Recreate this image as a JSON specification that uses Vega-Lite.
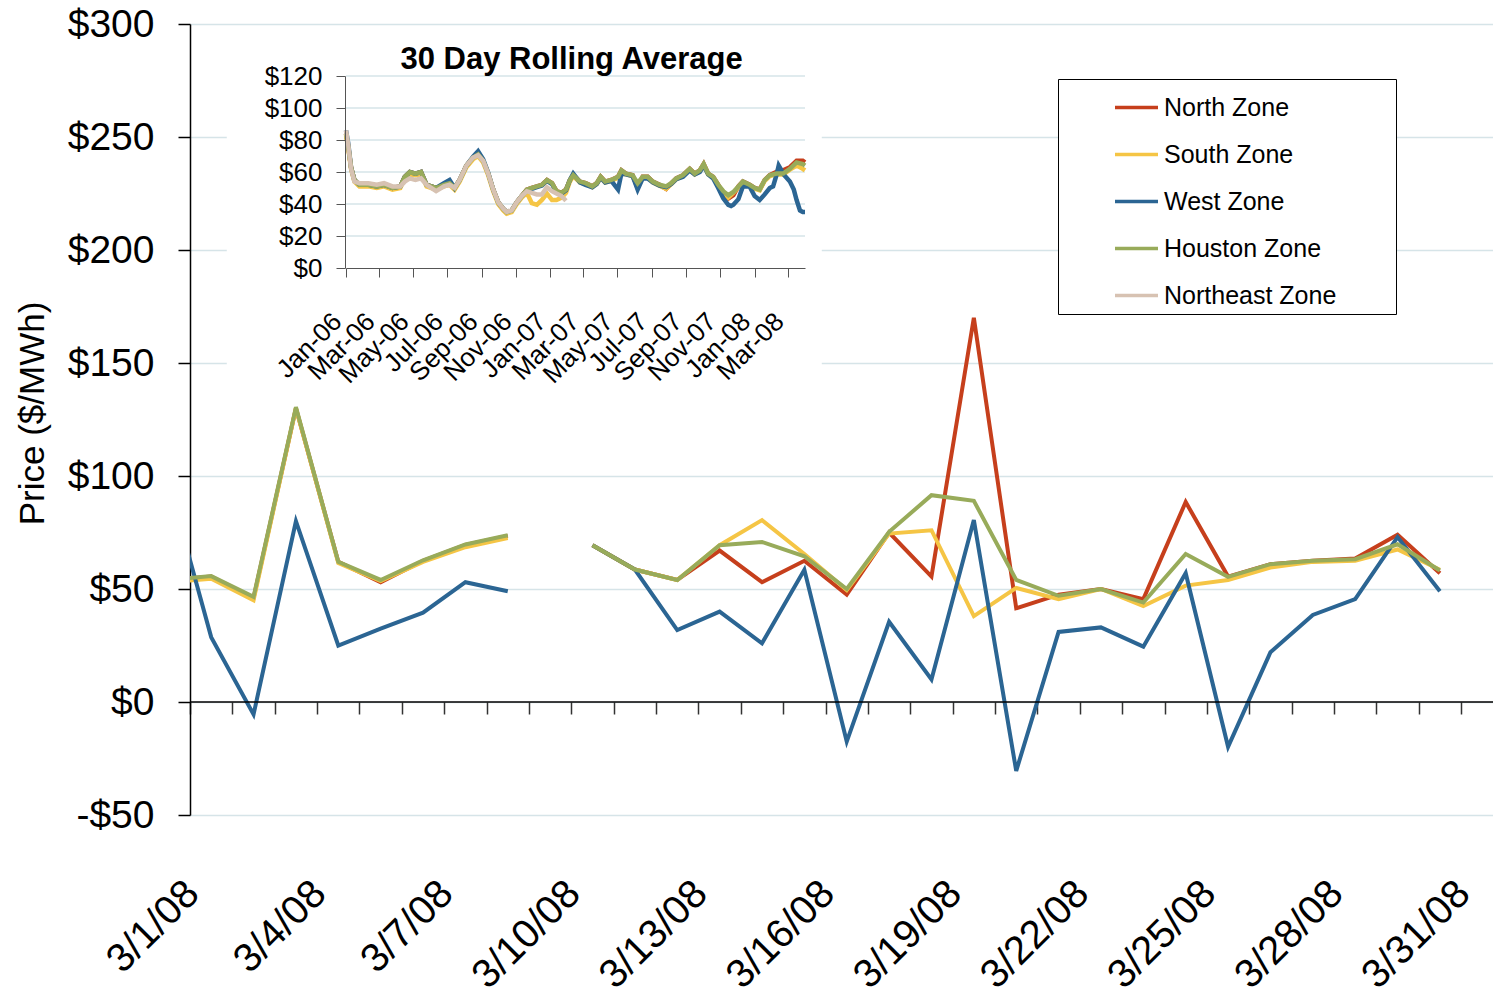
{
  "$schema": "https://vega.github.io/schema/vega-lite/v6.json",
  "width": 1303,
  "height": 791,
  "autosize": {"type": "none"},
  "padding": {"left": 190, "top": 24, "right": 0, "bottom": 183},
  "background": "white",
  "config": {
    "font": "Liberation Sans",
    "view": {"stroke": null},
    "axis": {"labelFlush": false, "labelOverlap": false, "labelBound": false, "titleFontWeight": "normal", "labelColor": "black", "titleColor": "black"},
    "legend": {"labelColor": "black"}
  },
  "datasets": {
    "daily": [
      {"date":"2008-02-29T12:00","zone":"North Zone","price":54},
      {"date":"2008-03-01T12:00","zone":"North Zone","price":55.5},
      {"date":"2008-03-02T12:00","zone":"North Zone","price":46},
      {"date":"2008-03-03T12:00","zone":"North Zone","price":130},
      {"date":"2008-03-04T12:00","zone":"North Zone","price":62},
      {"date":"2008-03-05T12:00","zone":"North Zone","price":53},
      {"date":"2008-03-06T12:00","zone":"North Zone","price":62.5},
      {"date":"2008-03-07T12:00","zone":"North Zone","price":69.5},
      {"date":"2008-03-08T12:00","zone":"North Zone","price":73.5},
      {"date":"2008-03-09T12:00","zone":"North Zone","price":null},
      {"date":"2008-03-10T12:00","zone":"North Zone","price":69.4},
      {"date":"2008-03-11T12:00","zone":"North Zone","price":58.6},
      {"date":"2008-03-12T12:00","zone":"North Zone","price":54},
      {"date":"2008-03-13T12:00","zone":"North Zone","price":67},
      {"date":"2008-03-14T12:00","zone":"North Zone","price":53},
      {"date":"2008-03-15T12:00","zone":"North Zone","price":62.5},
      {"date":"2008-03-16T12:00","zone":"North Zone","price":47.5},
      {"date":"2008-03-17T12:00","zone":"North Zone","price":75},
      {"date":"2008-03-18T12:00","zone":"North Zone","price":55.5},
      {"date":"2008-03-19T12:00","zone":"North Zone","price":170},
      {"date":"2008-03-20T12:00","zone":"North Zone","price":41.5},
      {"date":"2008-03-21T12:00","zone":"North Zone","price":47.5},
      {"date":"2008-03-22T12:00","zone":"North Zone","price":50},
      {"date":"2008-03-23T12:00","zone":"North Zone","price":45.5},
      {"date":"2008-03-24T12:00","zone":"North Zone","price":88.5},
      {"date":"2008-03-25T12:00","zone":"North Zone","price":55.5},
      {"date":"2008-03-26T12:00","zone":"North Zone","price":61},
      {"date":"2008-03-27T12:00","zone":"North Zone","price":62.5},
      {"date":"2008-03-28T12:00","zone":"North Zone","price":63.5},
      {"date":"2008-03-29T12:00","zone":"North Zone","price":74},
      {"date":"2008-03-30T12:00","zone":"North Zone","price":57},
      {"date":"2008-02-29T12:00","zone":"South Zone","price":53},
      {"date":"2008-03-01T12:00","zone":"South Zone","price":54.5},
      {"date":"2008-03-02T12:00","zone":"South Zone","price":45},
      {"date":"2008-03-03T12:00","zone":"South Zone","price":130},
      {"date":"2008-03-04T12:00","zone":"South Zone","price":61.5},
      {"date":"2008-03-05T12:00","zone":"South Zone","price":53.5},
      {"date":"2008-03-06T12:00","zone":"South Zone","price":62},
      {"date":"2008-03-07T12:00","zone":"South Zone","price":68.5},
      {"date":"2008-03-08T12:00","zone":"South Zone","price":72.5},
      {"date":"2008-03-09T12:00","zone":"South Zone","price":null},
      {"date":"2008-03-10T12:00","zone":"South Zone","price":69.4},
      {"date":"2008-03-11T12:00","zone":"South Zone","price":58.6},
      {"date":"2008-03-12T12:00","zone":"South Zone","price":54},
      {"date":"2008-03-13T12:00","zone":"South Zone","price":69.4},
      {"date":"2008-03-14T12:00","zone":"South Zone","price":80.5},
      {"date":"2008-03-15T12:00","zone":"South Zone","price":65.5},
      {"date":"2008-03-16T12:00","zone":"South Zone","price":49.5},
      {"date":"2008-03-17T12:00","zone":"South Zone","price":74.5},
      {"date":"2008-03-18T12:00","zone":"South Zone","price":76},
      {"date":"2008-03-19T12:00","zone":"South Zone","price":38},
      {"date":"2008-03-20T12:00","zone":"South Zone","price":50.5},
      {"date":"2008-03-21T12:00","zone":"South Zone","price":45.5},
      {"date":"2008-03-22T12:00","zone":"South Zone","price":50},
      {"date":"2008-03-23T12:00","zone":"South Zone","price":42.5},
      {"date":"2008-03-24T12:00","zone":"South Zone","price":51.5},
      {"date":"2008-03-25T12:00","zone":"South Zone","price":54},
      {"date":"2008-03-26T12:00","zone":"South Zone","price":59.5},
      {"date":"2008-03-27T12:00","zone":"South Zone","price":62},
      {"date":"2008-03-28T12:00","zone":"South Zone","price":62.5},
      {"date":"2008-03-29T12:00","zone":"South Zone","price":67.5},
      {"date":"2008-03-30T12:00","zone":"South Zone","price":58.5},
      {"date":"2008-02-29T12:00","zone":"West Zone","price":97},
      {"date":"2008-03-01T12:00","zone":"West Zone","price":28.7},
      {"date":"2008-03-02T12:00","zone":"West Zone","price":-5.5},
      {"date":"2008-03-03T12:00","zone":"West Zone","price":80},
      {"date":"2008-03-04T12:00","zone":"West Zone","price":25},
      {"date":"2008-03-05T12:00","zone":"West Zone","price":32.5},
      {"date":"2008-03-06T12:00","zone":"West Zone","price":39.5},
      {"date":"2008-03-07T12:00","zone":"West Zone","price":53},
      {"date":"2008-03-08T12:00","zone":"West Zone","price":49},
      {"date":"2008-03-09T12:00","zone":"West Zone","price":null},
      {"date":"2008-03-10T12:00","zone":"West Zone","price":69.4},
      {"date":"2008-03-11T12:00","zone":"West Zone","price":58.6},
      {"date":"2008-03-12T12:00","zone":"West Zone","price":31.8},
      {"date":"2008-03-13T12:00","zone":"West Zone","price":40},
      {"date":"2008-03-14T12:00","zone":"West Zone","price":26},
      {"date":"2008-03-15T12:00","zone":"West Zone","price":58.5},
      {"date":"2008-03-16T12:00","zone":"West Zone","price":-17.5},
      {"date":"2008-03-17T12:00","zone":"West Zone","price":35.5},
      {"date":"2008-03-18T12:00","zone":"West Zone","price":10},
      {"date":"2008-03-19T12:00","zone":"West Zone","price":80.5},
      {"date":"2008-03-20T12:00","zone":"West Zone","price":-30.5},
      {"date":"2008-03-21T12:00","zone":"West Zone","price":31},
      {"date":"2008-03-22T12:00","zone":"West Zone","price":33},
      {"date":"2008-03-23T12:00","zone":"West Zone","price":24.5},
      {"date":"2008-03-24T12:00","zone":"West Zone","price":57},
      {"date":"2008-03-25T12:00","zone":"West Zone","price":-19.8},
      {"date":"2008-03-26T12:00","zone":"West Zone","price":22},
      {"date":"2008-03-27T12:00","zone":"West Zone","price":38.5},
      {"date":"2008-03-28T12:00","zone":"West Zone","price":45.5},
      {"date":"2008-03-29T12:00","zone":"West Zone","price":73},
      {"date":"2008-03-30T12:00","zone":"West Zone","price":49},
      {"date":"2008-02-29T12:00","zone":"Houston Zone","price":54},
      {"date":"2008-03-01T12:00","zone":"Houston Zone","price":55.7},
      {"date":"2008-03-02T12:00","zone":"Houston Zone","price":46.5},
      {"date":"2008-03-03T12:00","zone":"Houston Zone","price":130.5},
      {"date":"2008-03-04T12:00","zone":"Houston Zone","price":62},
      {"date":"2008-03-05T12:00","zone":"Houston Zone","price":54},
      {"date":"2008-03-06T12:00","zone":"Houston Zone","price":62.7},
      {"date":"2008-03-07T12:00","zone":"Houston Zone","price":69.7},
      {"date":"2008-03-08T12:00","zone":"Houston Zone","price":73.8},
      {"date":"2008-03-09T12:00","zone":"Houston Zone","price":null},
      {"date":"2008-03-10T12:00","zone":"Houston Zone","price":69.4},
      {"date":"2008-03-11T12:00","zone":"Houston Zone","price":58.6},
      {"date":"2008-03-12T12:00","zone":"Houston Zone","price":54},
      {"date":"2008-03-13T12:00","zone":"Houston Zone","price":69.4},
      {"date":"2008-03-14T12:00","zone":"Houston Zone","price":70.8},
      {"date":"2008-03-15T12:00","zone":"Houston Zone","price":64.5},
      {"date":"2008-03-16T12:00","zone":"Houston Zone","price":50},
      {"date":"2008-03-17T12:00","zone":"Houston Zone","price":75.3},
      {"date":"2008-03-18T12:00","zone":"Houston Zone","price":91.5},
      {"date":"2008-03-19T12:00","zone":"Houston Zone","price":89},
      {"date":"2008-03-20T12:00","zone":"Houston Zone","price":54},
      {"date":"2008-03-21T12:00","zone":"Houston Zone","price":47},
      {"date":"2008-03-22T12:00","zone":"Houston Zone","price":50},
      {"date":"2008-03-23T12:00","zone":"Houston Zone","price":44},
      {"date":"2008-03-24T12:00","zone":"Houston Zone","price":65.5},
      {"date":"2008-03-25T12:00","zone":"Houston Zone","price":55.4},
      {"date":"2008-03-26T12:00","zone":"Houston Zone","price":61},
      {"date":"2008-03-27T12:00","zone":"Houston Zone","price":62.5},
      {"date":"2008-03-28T12:00","zone":"Houston Zone","price":63.2},
      {"date":"2008-03-29T12:00","zone":"Houston Zone","price":69.8},
      {"date":"2008-03-30T12:00","zone":"Houston Zone","price":58.2}
    ],
    "rolling": [
      {"date":"2006-01-01","zone":"North Zone","price":84},
      {"date":"2006-01-05","zone":"North Zone","price":76},
      {"date":"2006-01-10","zone":"North Zone","price":63},
      {"date":"2006-01-16","zone":"North Zone","price":55},
      {"date":"2006-01-25","zone":"North Zone","price":52},
      {"date":"2006-02-10","zone":"North Zone","price":52},
      {"date":"2006-02-25","zone":"North Zone","price":51},
      {"date":"2006-03-10","zone":"North Zone","price":52},
      {"date":"2006-03-25","zone":"North Zone","price":50},
      {"date":"2006-04-08","zone":"North Zone","price":51},
      {"date":"2006-04-16","zone":"North Zone","price":57},
      {"date":"2006-04-25","zone":"North Zone","price":60},
      {"date":"2006-05-05","zone":"North Zone","price":59},
      {"date":"2006-05-15","zone":"North Zone","price":60},
      {"date":"2006-05-25","zone":"North Zone","price":52},
      {"date":"2006-06-11","zone":"North Zone","price":50},
      {"date":"2006-06-25","zone":"North Zone","price":52},
      {"date":"2006-07-05","zone":"North Zone","price":53},
      {"date":"2006-07-14","zone":"North Zone","price":50},
      {"date":"2006-07-23","zone":"North Zone","price":55},
      {"date":"2006-08-04","zone":"North Zone","price":64},
      {"date":"2006-08-16","zone":"North Zone","price":69},
      {"date":"2006-08-25","zone":"North Zone","price":71},
      {"date":"2006-09-03","zone":"North Zone","price":67},
      {"date":"2006-09-12","zone":"North Zone","price":59},
      {"date":"2006-09-21","zone":"North Zone","price":49},
      {"date":"2006-09-30","zone":"North Zone","price":41},
      {"date":"2006-10-09","zone":"North Zone","price":37},
      {"date":"2006-10-15","zone":"North Zone","price":35},
      {"date":"2006-10-24","zone":"North Zone","price":36},
      {"date":"2006-11-02","zone":"North Zone","price":41},
      {"date":"2006-11-11","zone":"North Zone","price":45},
      {"date":"2006-11-20","zone":"North Zone","price":49},
      {"date":"2006-11-29","zone":"North Zone","price":50},
      {"date":"2006-12-08","zone":"North Zone","price":51},
      {"date":"2006-12-17","zone":"North Zone","price":52},
      {"date":"2006-12-26","zone":"North Zone","price":55},
      {"date":"2007-01-04","zone":"North Zone","price":53},
      {"date":"2007-01-12","zone":"North Zone","price":48},
      {"date":"2007-01-21","zone":"North Zone","price":47},
      {"date":"2007-01-29","zone":"North Zone","price":49},
      {"date":"2007-02-05","zone":"North Zone","price":55},
      {"date":"2007-02-11","zone":"North Zone","price":58},
      {"date":"2007-02-23","zone":"North Zone","price":54},
      {"date":"2007-03-05","zone":"North Zone","price":53},
      {"date":"2007-03-17","zone":"North Zone","price":51},
      {"date":"2007-03-25","zone":"North Zone","price":53},
      {"date":"2007-04-01","zone":"North Zone","price":57},
      {"date":"2007-04-09","zone":"North Zone","price":54},
      {"date":"2007-04-20","zone":"North Zone","price":55},
      {"date":"2007-05-02","zone":"North Zone","price":57},
      {"date":"2007-05-08","zone":"North Zone","price":61},
      {"date":"2007-05-16","zone":"North Zone","price":59},
      {"date":"2007-05-28","zone":"North Zone","price":58},
      {"date":"2007-06-06","zone":"North Zone","price":50},
      {"date":"2007-06-15","zone":"North Zone","price":57},
      {"date":"2007-06-24","zone":"North Zone","price":57},
      {"date":"2007-07-03","zone":"North Zone","price":54},
      {"date":"2007-07-15","zone":"North Zone","price":52},
      {"date":"2007-07-27","zone":"North Zone","price":49.5},
      {"date":"2007-08-05","zone":"North Zone","price":53},
      {"date":"2007-08-14","zone":"North Zone","price":56},
      {"date":"2007-08-26","zone":"North Zone","price":58},
      {"date":"2007-09-07","zone":"North Zone","price":62},
      {"date":"2007-09-16","zone":"North Zone","price":59},
      {"date":"2007-09-25","zone":"North Zone","price":61},
      {"date":"2007-10-02","zone":"North Zone","price":65},
      {"date":"2007-10-10","zone":"North Zone","price":59},
      {"date":"2007-10-19","zone":"North Zone","price":57},
      {"date":"2007-10-28","zone":"North Zone","price":52},
      {"date":"2007-11-06","zone":"North Zone","price":46},
      {"date":"2007-11-15","zone":"North Zone","price":43.5},
      {"date":"2007-11-24","zone":"North Zone","price":45.5},
      {"date":"2007-12-03","zone":"North Zone","price":51},
      {"date":"2007-12-11","zone":"North Zone","price":54},
      {"date":"2007-12-23","zone":"North Zone","price":52},
      {"date":"2008-01-01","zone":"North Zone","price":50},
      {"date":"2008-01-10","zone":"North Zone","price":49},
      {"date":"2008-01-19","zone":"North Zone","price":55},
      {"date":"2008-01-28","zone":"North Zone","price":58},
      {"date":"2008-02-09","zone":"North Zone","price":60},
      {"date":"2008-02-21","zone":"North Zone","price":61},
      {"date":"2008-03-04","zone":"North Zone","price":63},
      {"date":"2008-03-16","zone":"North Zone","price":67},
      {"date":"2008-03-27","zone":"North Zone","price":67},
      {"date":"2008-03-31","zone":"North Zone","price":66},
      {"date":"2006-01-01","zone":"South Zone","price":83},
      {"date":"2006-01-05","zone":"South Zone","price":75},
      {"date":"2006-01-10","zone":"South Zone","price":62},
      {"date":"2006-01-16","zone":"South Zone","price":54},
      {"date":"2006-01-25","zone":"South Zone","price":51},
      {"date":"2006-02-10","zone":"South Zone","price":51},
      {"date":"2006-02-25","zone":"South Zone","price":50},
      {"date":"2006-03-10","zone":"South Zone","price":51},
      {"date":"2006-03-25","zone":"South Zone","price":49},
      {"date":"2006-04-08","zone":"South Zone","price":50},
      {"date":"2006-04-16","zone":"South Zone","price":56},
      {"date":"2006-04-25","zone":"South Zone","price":59},
      {"date":"2006-05-05","zone":"South Zone","price":58},
      {"date":"2006-05-15","zone":"South Zone","price":59},
      {"date":"2006-05-25","zone":"South Zone","price":51},
      {"date":"2006-06-11","zone":"South Zone","price":49},
      {"date":"2006-06-25","zone":"South Zone","price":51},
      {"date":"2006-07-05","zone":"South Zone","price":52},
      {"date":"2006-07-14","zone":"South Zone","price":49},
      {"date":"2006-07-23","zone":"South Zone","price":54},
      {"date":"2006-08-04","zone":"South Zone","price":63},
      {"date":"2006-08-16","zone":"South Zone","price":68},
      {"date":"2006-08-25","zone":"South Zone","price":70},
      {"date":"2006-09-03","zone":"South Zone","price":66},
      {"date":"2006-09-12","zone":"South Zone","price":58},
      {"date":"2006-09-21","zone":"South Zone","price":48},
      {"date":"2006-09-30","zone":"South Zone","price":40},
      {"date":"2006-10-09","zone":"South Zone","price":36},
      {"date":"2006-10-15","zone":"South Zone","price":34},
      {"date":"2006-10-24","zone":"South Zone","price":35},
      {"date":"2006-11-02","zone":"South Zone","price":40},
      {"date":"2006-11-11","zone":"South Zone","price":44},
      {"date":"2006-11-20","zone":"South Zone","price":47},
      {"date":"2006-11-29","zone":"South Zone","price":40.5},
      {"date":"2006-12-08","zone":"South Zone","price":39.5},
      {"date":"2006-12-17","zone":"South Zone","price":42.5},
      {"date":"2006-12-26","zone":"South Zone","price":46.5},
      {"date":"2007-01-04","zone":"South Zone","price":42.5},
      {"date":"2007-01-12","zone":"South Zone","price":42.5},
      {"date":"2007-01-21","zone":"South Zone","price":44},
      {"date":"2007-01-29","zone":"South Zone","price":47},
      {"date":"2007-02-05","zone":"South Zone","price":54},
      {"date":"2007-02-11","zone":"South Zone","price":57.5},
      {"date":"2007-02-23","zone":"South Zone","price":53.5},
      {"date":"2007-03-05","zone":"South Zone","price":52.5},
      {"date":"2007-03-17","zone":"South Zone","price":50.5},
      {"date":"2007-03-25","zone":"South Zone","price":52.5},
      {"date":"2007-04-01","zone":"South Zone","price":56.5},
      {"date":"2007-04-09","zone":"South Zone","price":53.5},
      {"date":"2007-04-20","zone":"South Zone","price":54.5},
      {"date":"2007-05-02","zone":"South Zone","price":56.5},
      {"date":"2007-05-08","zone":"South Zone","price":59},
      {"date":"2007-05-16","zone":"South Zone","price":58.5},
      {"date":"2007-05-28","zone":"South Zone","price":57.5},
      {"date":"2007-06-06","zone":"South Zone","price":51},
      {"date":"2007-06-15","zone":"South Zone","price":56.5},
      {"date":"2007-06-24","zone":"South Zone","price":56.5},
      {"date":"2007-07-03","zone":"South Zone","price":53.5},
      {"date":"2007-07-15","zone":"South Zone","price":51.5},
      {"date":"2007-07-27","zone":"South Zone","price":49.5},
      {"date":"2007-08-05","zone":"South Zone","price":52.5},
      {"date":"2007-08-14","zone":"South Zone","price":55.5},
      {"date":"2007-08-26","zone":"South Zone","price":57.5},
      {"date":"2007-09-07","zone":"South Zone","price":61.5},
      {"date":"2007-09-16","zone":"South Zone","price":58.5},
      {"date":"2007-09-25","zone":"South Zone","price":60.5},
      {"date":"2007-10-02","zone":"South Zone","price":64.5},
      {"date":"2007-10-10","zone":"South Zone","price":58.5},
      {"date":"2007-10-19","zone":"South Zone","price":56.5},
      {"date":"2007-10-28","zone":"South Zone","price":51.5},
      {"date":"2007-11-06","zone":"South Zone","price":47.5},
      {"date":"2007-11-15","zone":"South Zone","price":44},
      {"date":"2007-11-24","zone":"South Zone","price":47},
      {"date":"2007-12-03","zone":"South Zone","price":50.5},
      {"date":"2007-12-11","zone":"South Zone","price":53.5},
      {"date":"2007-12-23","zone":"South Zone","price":51.5},
      {"date":"2008-01-01","zone":"South Zone","price":49.5},
      {"date":"2008-01-10","zone":"South Zone","price":48.5},
      {"date":"2008-01-19","zone":"South Zone","price":54.5},
      {"date":"2008-01-28","zone":"South Zone","price":57.5},
      {"date":"2008-02-09","zone":"South Zone","price":58.5},
      {"date":"2008-02-21","zone":"South Zone","price":58.5},
      {"date":"2008-03-04","zone":"South Zone","price":61.5},
      {"date":"2008-03-16","zone":"South Zone","price":64},
      {"date":"2008-03-27","zone":"South Zone","price":62},
      {"date":"2008-03-31","zone":"South Zone","price":61},
      {"date":"2006-01-01","zone":"West Zone","price":86},
      {"date":"2006-01-05","zone":"West Zone","price":78},
      {"date":"2006-01-10","zone":"West Zone","price":63},
      {"date":"2006-01-16","zone":"West Zone","price":55},
      {"date":"2006-01-25","zone":"West Zone","price":52},
      {"date":"2006-02-10","zone":"West Zone","price":52},
      {"date":"2006-02-25","zone":"West Zone","price":51},
      {"date":"2006-03-10","zone":"West Zone","price":52},
      {"date":"2006-03-25","zone":"West Zone","price":50},
      {"date":"2006-04-08","zone":"West Zone","price":51},
      {"date":"2006-04-16","zone":"West Zone","price":57},
      {"date":"2006-04-25","zone":"West Zone","price":60},
      {"date":"2006-05-05","zone":"West Zone","price":59},
      {"date":"2006-05-15","zone":"West Zone","price":60},
      {"date":"2006-05-25","zone":"West Zone","price":52},
      {"date":"2006-06-11","zone":"West Zone","price":50},
      {"date":"2006-06-25","zone":"West Zone","price":53},
      {"date":"2006-07-05","zone":"West Zone","price":55},
      {"date":"2006-07-14","zone":"West Zone","price":50},
      {"date":"2006-07-23","zone":"West Zone","price":55},
      {"date":"2006-08-04","zone":"West Zone","price":64},
      {"date":"2006-08-16","zone":"West Zone","price":69.5},
      {"date":"2006-08-25","zone":"West Zone","price":73},
      {"date":"2006-09-03","zone":"West Zone","price":68},
      {"date":"2006-09-12","zone":"West Zone","price":59.5},
      {"date":"2006-09-21","zone":"West Zone","price":49},
      {"date":"2006-09-30","zone":"West Zone","price":41},
      {"date":"2006-10-09","zone":"West Zone","price":37},
      {"date":"2006-10-15","zone":"West Zone","price":35},
      {"date":"2006-10-24","zone":"West Zone","price":36},
      {"date":"2006-11-02","zone":"West Zone","price":41},
      {"date":"2006-11-11","zone":"West Zone","price":45},
      {"date":"2006-11-20","zone":"West Zone","price":48.5},
      {"date":"2006-11-29","zone":"West Zone","price":49.5},
      {"date":"2006-12-08","zone":"West Zone","price":50.5},
      {"date":"2006-12-17","zone":"West Zone","price":51.5},
      {"date":"2006-12-26","zone":"West Zone","price":54.5},
      {"date":"2007-01-04","zone":"West Zone","price":52.5},
      {"date":"2007-01-12","zone":"West Zone","price":47.5},
      {"date":"2007-01-21","zone":"West Zone","price":46.5},
      {"date":"2007-01-29","zone":"West Zone","price":48.5},
      {"date":"2007-02-05","zone":"West Zone","price":55},
      {"date":"2007-02-11","zone":"West Zone","price":59},
      {"date":"2007-02-23","zone":"West Zone","price":53.5},
      {"date":"2007-03-05","zone":"West Zone","price":52},
      {"date":"2007-03-17","zone":"West Zone","price":50.5},
      {"date":"2007-03-25","zone":"West Zone","price":52.5},
      {"date":"2007-04-01","zone":"West Zone","price":56.5},
      {"date":"2007-04-09","zone":"West Zone","price":53.5},
      {"date":"2007-04-20","zone":"West Zone","price":54.5},
      {"date":"2007-05-02","zone":"West Zone","price":49},
      {"date":"2007-05-08","zone":"West Zone","price":59},
      {"date":"2007-05-16","zone":"West Zone","price":58.5},
      {"date":"2007-05-28","zone":"West Zone","price":57.5},
      {"date":"2007-06-06","zone":"West Zone","price":49},
      {"date":"2007-06-15","zone":"West Zone","price":56},
      {"date":"2007-06-24","zone":"West Zone","price":56},
      {"date":"2007-07-03","zone":"West Zone","price":53.5},
      {"date":"2007-07-15","zone":"West Zone","price":51.5},
      {"date":"2007-07-27","zone":"West Zone","price":50.5},
      {"date":"2007-08-05","zone":"West Zone","price":52.5},
      {"date":"2007-08-14","zone":"West Zone","price":55.5},
      {"date":"2007-08-26","zone":"West Zone","price":57},
      {"date":"2007-09-07","zone":"West Zone","price":61},
      {"date":"2007-09-16","zone":"West Zone","price":58.5},
      {"date":"2007-09-25","zone":"West Zone","price":60},
      {"date":"2007-10-02","zone":"West Zone","price":64},
      {"date":"2007-10-10","zone":"West Zone","price":58.5},
      {"date":"2007-10-19","zone":"West Zone","price":56},
      {"date":"2007-10-28","zone":"West Zone","price":50},
      {"date":"2007-11-06","zone":"West Zone","price":43.5},
      {"date":"2007-11-15","zone":"West Zone","price":39.5},
      {"date":"2007-11-20","zone":"West Zone","price":38.8},
      {"date":"2007-11-24","zone":"West Zone","price":39.5},
      {"date":"2007-12-03","zone":"West Zone","price":43},
      {"date":"2007-12-11","zone":"West Zone","price":51},
      {"date":"2007-12-23","zone":"West Zone","price":51},
      {"date":"2008-01-01","zone":"West Zone","price":45},
      {"date":"2008-01-10","zone":"West Zone","price":42.5},
      {"date":"2008-01-19","zone":"West Zone","price":46},
      {"date":"2008-01-28","zone":"West Zone","price":50},
      {"date":"2008-02-03","zone":"West Zone","price":51},
      {"date":"2008-02-09","zone":"West Zone","price":58},
      {"date":"2008-02-13","zone":"West Zone","price":64},
      {"date":"2008-02-23","zone":"West Zone","price":58},
      {"date":"2008-03-04","zone":"West Zone","price":54},
      {"date":"2008-03-11","zone":"West Zone","price":49},
      {"date":"2008-03-16","zone":"West Zone","price":42.5},
      {"date":"2008-03-22","zone":"West Zone","price":36},
      {"date":"2008-03-27","zone":"West Zone","price":35},
      {"date":"2008-03-31","zone":"West Zone","price":35},
      {"date":"2006-01-01","zone":"Houston Zone","price":84},
      {"date":"2006-01-05","zone":"Houston Zone","price":76},
      {"date":"2006-01-10","zone":"Houston Zone","price":63},
      {"date":"2006-01-16","zone":"Houston Zone","price":55},
      {"date":"2006-01-25","zone":"Houston Zone","price":52},
      {"date":"2006-02-10","zone":"Houston Zone","price":52},
      {"date":"2006-02-25","zone":"Houston Zone","price":51},
      {"date":"2006-03-10","zone":"Houston Zone","price":52},
      {"date":"2006-03-25","zone":"Houston Zone","price":50},
      {"date":"2006-04-08","zone":"Houston Zone","price":51},
      {"date":"2006-04-16","zone":"Houston Zone","price":57},
      {"date":"2006-04-25","zone":"Houston Zone","price":60},
      {"date":"2006-05-05","zone":"Houston Zone","price":59},
      {"date":"2006-05-15","zone":"Houston Zone","price":60},
      {"date":"2006-05-25","zone":"Houston Zone","price":52},
      {"date":"2006-06-11","zone":"Houston Zone","price":50},
      {"date":"2006-06-25","zone":"Houston Zone","price":52},
      {"date":"2006-07-05","zone":"Houston Zone","price":53},
      {"date":"2006-07-14","zone":"Houston Zone","price":50},
      {"date":"2006-07-23","zone":"Houston Zone","price":55},
      {"date":"2006-08-04","zone":"Houston Zone","price":64},
      {"date":"2006-08-16","zone":"Houston Zone","price":69},
      {"date":"2006-08-25","zone":"Houston Zone","price":71},
      {"date":"2006-09-03","zone":"Houston Zone","price":67},
      {"date":"2006-09-12","zone":"Houston Zone","price":59},
      {"date":"2006-09-21","zone":"Houston Zone","price":49},
      {"date":"2006-09-30","zone":"Houston Zone","price":41},
      {"date":"2006-10-09","zone":"Houston Zone","price":37},
      {"date":"2006-10-15","zone":"Houston Zone","price":35},
      {"date":"2006-10-24","zone":"Houston Zone","price":36},
      {"date":"2006-11-02","zone":"Houston Zone","price":41},
      {"date":"2006-11-11","zone":"Houston Zone","price":45},
      {"date":"2006-11-20","zone":"Houston Zone","price":49},
      {"date":"2006-11-29","zone":"Houston Zone","price":50},
      {"date":"2006-12-08","zone":"Houston Zone","price":51},
      {"date":"2006-12-17","zone":"Houston Zone","price":52},
      {"date":"2006-12-26","zone":"Houston Zone","price":55},
      {"date":"2007-01-04","zone":"Houston Zone","price":53},
      {"date":"2007-01-12","zone":"Houston Zone","price":48},
      {"date":"2007-01-21","zone":"Houston Zone","price":47},
      {"date":"2007-01-29","zone":"Houston Zone","price":49},
      {"date":"2007-02-05","zone":"Houston Zone","price":55},
      {"date":"2007-02-11","zone":"Houston Zone","price":58},
      {"date":"2007-02-23","zone":"Houston Zone","price":54},
      {"date":"2007-03-05","zone":"Houston Zone","price":53},
      {"date":"2007-03-17","zone":"Houston Zone","price":51},
      {"date":"2007-03-25","zone":"Houston Zone","price":53},
      {"date":"2007-04-01","zone":"Houston Zone","price":57},
      {"date":"2007-04-09","zone":"Houston Zone","price":54},
      {"date":"2007-04-20","zone":"Houston Zone","price":55},
      {"date":"2007-05-02","zone":"Houston Zone","price":57},
      {"date":"2007-05-08","zone":"Houston Zone","price":61},
      {"date":"2007-05-16","zone":"Houston Zone","price":59},
      {"date":"2007-05-28","zone":"Houston Zone","price":58},
      {"date":"2007-06-06","zone":"Houston Zone","price":53},
      {"date":"2007-06-15","zone":"Houston Zone","price":57},
      {"date":"2007-06-24","zone":"Houston Zone","price":57},
      {"date":"2007-07-03","zone":"Houston Zone","price":54},
      {"date":"2007-07-15","zone":"Houston Zone","price":52},
      {"date":"2007-07-27","zone":"Houston Zone","price":51},
      {"date":"2007-08-05","zone":"Houston Zone","price":53},
      {"date":"2007-08-14","zone":"Houston Zone","price":56},
      {"date":"2007-08-26","zone":"Houston Zone","price":58},
      {"date":"2007-09-07","zone":"Houston Zone","price":62},
      {"date":"2007-09-16","zone":"Houston Zone","price":59},
      {"date":"2007-09-25","zone":"Houston Zone","price":61},
      {"date":"2007-10-02","zone":"Houston Zone","price":65},
      {"date":"2007-10-10","zone":"Houston Zone","price":59},
      {"date":"2007-10-19","zone":"Houston Zone","price":57},
      {"date":"2007-10-28","zone":"Houston Zone","price":52},
      {"date":"2007-11-06","zone":"Houston Zone","price":48},
      {"date":"2007-11-15","zone":"Houston Zone","price":45.5},
      {"date":"2007-11-24","zone":"Houston Zone","price":47.5},
      {"date":"2007-12-03","zone":"Houston Zone","price":51},
      {"date":"2007-12-11","zone":"Houston Zone","price":54},
      {"date":"2007-12-23","zone":"Houston Zone","price":52},
      {"date":"2008-01-01","zone":"Houston Zone","price":50},
      {"date":"2008-01-10","zone":"Houston Zone","price":49},
      {"date":"2008-01-19","zone":"Houston Zone","price":55},
      {"date":"2008-01-28","zone":"Houston Zone","price":58},
      {"date":"2008-02-09","zone":"Houston Zone","price":59},
      {"date":"2008-02-21","zone":"Houston Zone","price":59},
      {"date":"2008-03-04","zone":"Houston Zone","price":62},
      {"date":"2008-03-16","zone":"Houston Zone","price":66},
      {"date":"2008-03-27","zone":"Houston Zone","price":65},
      {"date":"2008-03-31","zone":"Houston Zone","price":64},
      {"date":"2006-01-01","zone":"Northeast Zone","price":86},
      {"date":"2006-01-05","zone":"Northeast Zone","price":77},
      {"date":"2006-01-10","zone":"Northeast Zone","price":62},
      {"date":"2006-01-16","zone":"Northeast Zone","price":54},
      {"date":"2006-01-25","zone":"Northeast Zone","price":53},
      {"date":"2006-02-10","zone":"Northeast Zone","price":53},
      {"date":"2006-02-25","zone":"Northeast Zone","price":52},
      {"date":"2006-03-10","zone":"Northeast Zone","price":53},
      {"date":"2006-03-25","zone":"Northeast Zone","price":51},
      {"date":"2006-04-08","zone":"Northeast Zone","price":51},
      {"date":"2006-04-16","zone":"Northeast Zone","price":54},
      {"date":"2006-04-25","zone":"Northeast Zone","price":56},
      {"date":"2006-05-05","zone":"Northeast Zone","price":55},
      {"date":"2006-05-15","zone":"Northeast Zone","price":56},
      {"date":"2006-05-25","zone":"Northeast Zone","price":52},
      {"date":"2006-06-11","zone":"Northeast Zone","price":48},
      {"date":"2006-06-25","zone":"Northeast Zone","price":51},
      {"date":"2006-07-05","zone":"Northeast Zone","price":52},
      {"date":"2006-07-14","zone":"Northeast Zone","price":50},
      {"date":"2006-07-23","zone":"Northeast Zone","price":55},
      {"date":"2006-08-04","zone":"Northeast Zone","price":64},
      {"date":"2006-08-16","zone":"Northeast Zone","price":69},
      {"date":"2006-08-25","zone":"Northeast Zone","price":70.5},
      {"date":"2006-09-03","zone":"Northeast Zone","price":67},
      {"date":"2006-09-12","zone":"Northeast Zone","price":59},
      {"date":"2006-09-21","zone":"Northeast Zone","price":49},
      {"date":"2006-09-30","zone":"Northeast Zone","price":41},
      {"date":"2006-10-09","zone":"Northeast Zone","price":37},
      {"date":"2006-10-15","zone":"Northeast Zone","price":35},
      {"date":"2006-10-24","zone":"Northeast Zone","price":36},
      {"date":"2006-11-02","zone":"Northeast Zone","price":41},
      {"date":"2006-11-11","zone":"Northeast Zone","price":45},
      {"date":"2006-11-20","zone":"Northeast Zone","price":48},
      {"date":"2006-11-29","zone":"Northeast Zone","price":47},
      {"date":"2006-12-08","zone":"Northeast Zone","price":46},
      {"date":"2006-12-17","zone":"Northeast Zone","price":46},
      {"date":"2006-12-26","zone":"Northeast Zone","price":50.5},
      {"date":"2007-01-04","zone":"Northeast Zone","price":48},
      {"date":"2007-01-12","zone":"Northeast Zone","price":46.5},
      {"date":"2007-01-21","zone":"Northeast Zone","price":45},
      {"date":"2007-01-29","zone":"Northeast Zone","price":42}
    ],
    "insetGrid": [{"level":20},{"level":40},{"level":60},{"level":80},{"level":100},{"level":120}]
  },
  "layer": [
    {
      "layer": [
        {
          "data": {"name": "daily"},
          "mark": {"type": "line", "strokeWidth": 4, "clip": true, "invalid": "break-paths-filter-domains"},
          "encoding": {
            "x": {
              "field": "date", "type": "temporal",
              "scale": {"domain": [{"year": 2008, "month": 3, "date": 1}, {"year": 2008, "month": 3, "date": 31, "hours": 18, "minutes": 4}]},
              "axis": {
                "orient": "bottom", "title": null,
                "values": [{"year":2008,"month":3,"date":1},{"year":2008,"month":3,"date":4},{"year":2008,"month":3,"date":7},{"year":2008,"month":3,"date":10},{"year":2008,"month":3,"date":13},{"year":2008,"month":3,"date":16},{"year":2008,"month":3,"date":19},{"year":2008,"month":3,"date":22},{"year":2008,"month":3,"date":25},{"year":2008,"month":3,"date":28},{"year":2008,"month":3,"date":31}],
                "format": "%-m/%-d/%y", "labelAngle": -45, "labelFontSize": 40, "labelPadding": 58, "labelOffset": -12,
                "ticks": false, "tickSize": 0, "domain": false, "grid": false
              }
            },
            "y": {
              "field": "price", "type": "quantitative",
              "scale": {"domain": [-50, 300], "nice": false, "zero": false},
              "axis": {
                "orient": "left",
                "values": [-50, 0, 50, 100, 150, 200, 250, 300],
                "labelExpr": "datum.value < 0 ? '-$' + abs(datum.value) : '$' + datum.value",
                "labelFontSize": 39, "labelPadding": 24,
                "tickSize": 12, "tickColor": "black", "tickWidth": 1.5,
                "domainColor": "black", "domainWidth": 1.5,
                "grid": true, "gridColor": "#d6e4e8", "gridWidth": 1.5,
                "title": "Price ($/MWh)", "titleFontSize": 35, "titleX": -140, "titleY": 389,
                "titleAngle": 270, "titleAlign": "center", "titleBaseline": "bottom"
              }
            },
            "color": {
              "field": "zone", "type": "nominal",
              "scale": {
                "domain": ["North Zone", "South Zone", "West Zone", "Houston Zone", "Northeast Zone"],
                "range": ["#C63F1C", "#F5C545", "#2B6593", "#98AB5A", "#D7C2B2"]
              },
              "legend": {
                "orient": "none", "legendX": 868, "legendY": 55,
                "title": "\u00a0", "titleOrient": "right", "titlePadding": 55, "titleFontSize": 8,
                "strokeColor": "black", "fillColor": "white", "padding": 5,
                "symbolType": "stroke", "symbolSize": 1849, "symbolStrokeWidth": 3.5, "symbolOffset": 50,
                "labelFontSize": 25, "labelOffset": 4, "rowPadding": 10, "labelLimit": 400
              }
            }
          }
        },
        {
          "data": {"values": [{}]},
          "mark": {"type": "rule", "color": "black", "strokeWidth": 1.5},
          "encoding": {
            "x": {
              "datum": {"year": 2008, "month": 3, "date": 1}, "type": "temporal",
              "axis": {
                "orient": "bottom", "offset": -113, "title": null, "labels": false, "domain": false, "grid": false,
                "tickCount": {"interval": "day", "step": 1}, "tickSize": 12, "tickColor": "#333", "tickWidth": 1.5
              }
            },
            "x2": {"datum": {"year": 2008, "month": 3, "date": 31, "hours": 18, "minutes": 4}},
            "y": {"datum": 0, "type": "quantitative"}
          }
        }
      ],
      "resolve": {"axis": {"x": "independent"}}
    },
    {
      "layer": [
        {
          "data": {"values": [{}]},
          "mark": {"type": "rect", "color": "white"},
          "encoding": {
            "x": {
              "datum": {"year": 2005, "month": 6, "date": 2}, "type": "temporal",
              "scale": {"domain": [{"year": 2006, "month": 1, "date": 1}, {"year": 2008, "month": 3, "date": 31}], "range": [156, 615]},
              "axis": {
                "orient": "bottom", "offset": -547, "title": null, "zindex": 1,
                "tickCount": {"interval": "month", "step": 2}, "format": "%b-%y",
                "labelAngle": -45, "labelFontSize": 26, "labelPadding": 31, "labelOffset": -18,
                "tickSize": 9, "tickColor": "#555", "domainColor": "#555", "grid": false
              }
            },
            "x2": {"datum": {"year": 2008, "month": 4, "date": 30}},
            "y": {
              "datum": 143.75, "type": "quantitative",
              "scale": {"domain": [0, 120], "range": [244, 52], "nice": false, "zero": false},
              "axis": {
                "orient": "left", "offset": -155, "title": null, "zindex": 1,
                "values": [0, 20, 40, 60, 80, 100, 120],
                "labelExpr": "'$' + datum.value", "labelFontSize": 26, "labelPadding": 14,
                "tickSize": 9, "tickColor": "#555", "domainColor": "#555", "grid": false
              }
            },
            "y2": {"datum": -76}
          }
        },
        {
          "data": {"name": "insetGrid"},
          "mark": {"type": "rule", "color": "#d6e4e8", "strokeWidth": 1.5},
          "encoding": {
            "x": {"datum": {"year": 2006, "month": 1, "date": 1}, "type": "temporal"},
            "x2": {"datum": {"year": 2008, "month": 3, "date": 31}},
            "y": {"field": "level", "type": "quantitative"}
          }
        },
        {
          "data": {"name": "rolling"},
          "mark": {"type": "line", "strokeWidth": 4.5},
          "encoding": {
            "x": {"field": "date", "type": "temporal"},
            "y": {"field": "price", "type": "quantitative"},
            "color": {"field": "zone", "type": "nominal"}
          }
        },
        {
          "data": {"values": [{}]},
          "mark": {"type": "text", "text": "30 Day Rolling Average", "fontSize": 31, "fontWeight": "bold", "baseline": "middle", "align": "center", "color": "black"},
          "encoding": {
            "x": {"datum": {"year": 2007, "month": 2, "date": 8}, "type": "temporal"},
            "y": {"datum": 130, "type": "quantitative"}
          }
        }
      ]
    }
  ],
  "resolve": {"scale": {"x": "independent", "y": "independent"}}
}
